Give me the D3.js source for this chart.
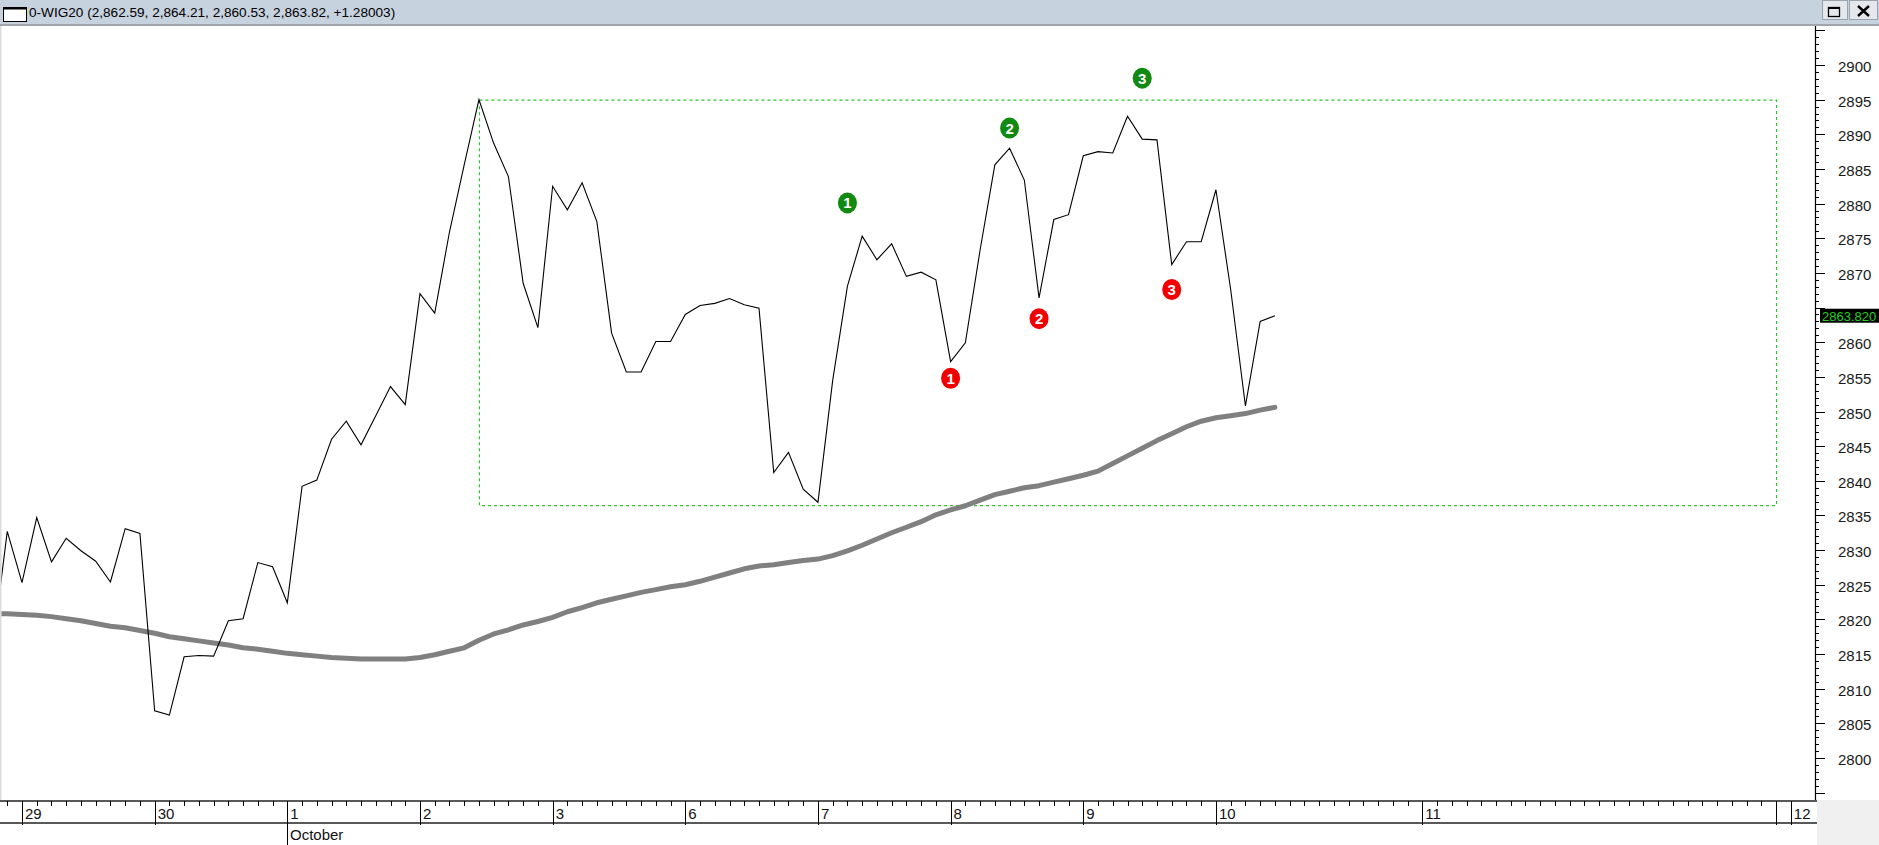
<!DOCTYPE html>
<html>
<head>
<meta charset="utf-8">
<script src="https://cdn.jsdelivr.net/npm/d3@7/dist/d3.min.js"></script>
<style>
  html, body { margin: 0; padding: 0; background: #ffffff; }
  svg { display: block; }
  text { font-family: "Liberation Sans", Arial, sans-serif; }
</style>
</head>
<body>
<svg id="chart" width="1879" height="845"></svg>
<script>
// ---------------- DATA ----------------
const titleText = "0-WIG20 (2,862.59, 2,864.21, 2,860.53, 2,863.82, +1.28003)";
const firstBar = -2; // bar index of first value (bar 0 = first bar of the 29th)
const closes = [2815.7, 2832.7, 2825.3, 2834.7, 2828.3, 2831.7, 2829.9, 2828.4, 2825.4, 2833.1,
  2832.4, 2806.8, 2806.2, 2814.6, 2814.8, 2814.7, 2819.8, 2820.1, 2828.2, 2827.6,
  2822.4, 2839.2, 2840.1, 2846.0, 2848.6, 2845.2, 2849.4, 2853.6, 2851.0, 2867.0,
  2864.2, 2875.9, 2885.6, 2895.0, 2888.7, 2883.9, 2868.5, 2862.1, 2882.5, 2879.1,
  2883.0, 2877.4, 2861.3, 2855.7, 2855.7, 2860.1, 2860.1, 2864.0, 2865.3, 2865.6,
  2866.3, 2865.4, 2864.9, 2841.2, 2844.1, 2838.8, 2836.9, 2854.5, 2868.1, 2875.3,
  2871.9, 2874.2, 2869.5, 2870.1, 2869.0, 2857.2, 2859.9, 2873.3, 2885.6, 2888.0,
  2883.4, 2866.4, 2877.7, 2878.4, 2886.9, 2887.5, 2887.3, 2892.6, 2889.3, 2889.2,
  2871.2, 2874.5, 2874.5, 2882.0, 2867.6, 2850.8, 2863.0, 2863.82];
const movingAvg = [2820.8, 2820.8, 2820.7, 2820.6, 2820.4, 2820.1, 2819.8, 2819.4, 2819.0, 2818.8,
  2818.4, 2818.0, 2817.5, 2817.2, 2816.9, 2816.6, 2816.3, 2815.9, 2815.7, 2815.4,
  2815.1, 2814.9, 2814.7, 2814.5, 2814.4, 2814.3, 2814.3, 2814.3, 2814.3, 2814.5,
  2814.9, 2815.4, 2815.9, 2817.0, 2817.9, 2818.5, 2819.2, 2819.7, 2820.3, 2821.1,
  2821.7, 2822.4, 2822.9, 2823.4, 2823.9, 2824.3, 2824.7, 2825.0, 2825.5, 2826.1,
  2826.7, 2827.3, 2827.7, 2827.9, 2828.2, 2828.5, 2828.7, 2829.2, 2829.9, 2830.7,
  2831.6, 2832.5, 2833.3, 2834.1, 2835.1, 2835.8, 2836.4, 2837.2, 2838.0, 2838.5,
  2839.0, 2839.3, 2839.8, 2840.3, 2840.8, 2841.4, 2842.5, 2843.6, 2844.7, 2845.8,
  2846.8, 2847.8, 2848.6, 2849.1, 2849.4, 2849.7, 2850.2, 2850.6];
const lastPrice = 2863.82;

const dayLabels = ["29", "30", "1", "2", "3", "6", "7", "8", "9", "10", "11", "12"];
const dayBars   = [0, 9, 18, 27, 36, 45, 54, 63, 72, 81, 95, 120];
const monthLabels = ["October"];
const monthBars = [18];

const yTickValues = d3.range(2800, 2901, 5);

const boxBars = [31, 119];
const boxLevels = [2895, 2836.5];

const markLabels = ["1", "2", "3"];
const greenBars = [56, 67, 76];
const greenValues = [2880.1, 2890.9, 2898.1];
const redBars = [63, 69, 78];
const redValues = [2854.8, 2863.4, 2867.6];

// ---------------- LAYOUT ----------------
const W = 1879, H = 845;
const plotTop = 26, plotBottom = 800, axisX = 1815;
const svg = d3.select("#chart");

const x = d3.scaleLinear().domain([0, 120]).range([22, 22 + 14.74 * 120]);
const y = d3.scaleLinear().domain([2800, 2900]).range([758, 65]);

// title bar
svg.append("rect").attr("x", 0).attr("y", 0).attr("width", W).attr("height", 24).attr("fill", "#c7d2df");
svg.append("rect").attr("x", 0).attr("y", 24).attr("width", W).attr("height", 2).attr("fill", "#a2a6ab");
svg.append("rect").attr("x", 3.5).attr("y", 7.5).attr("width", 23).attr("height", 14)
  .attr("fill", "#ffffff").attr("stroke", "#000").attr("stroke-width", 1);
svg.append("rect").attr("x", 3).attr("y", 7).attr("width", 24).attr("height", 2.5).attr("fill", "#000");
svg.append("text").attr("x", 29).attr("y", 17).attr("font-size", "13.6px").attr("fill", "#000").text(titleText);
// window buttons
[[1822, 26], [1849, 29]].forEach(([bx, bw]) => {
  svg.append("rect").attr("x", bx + 0.5).attr("y", 0.5).attr("width", bw - 1).attr("height", 19)
    .attr("fill", "#e4e7eb").attr("stroke", "#9aa3ad");
});
svg.append("rect").attr("x", 1828.5).attr("y", 7.5).attr("width", 11).attr("height", 9)
  .attr("fill", "none").attr("stroke", "#000").attr("stroke-width", 1.3);
svg.append("rect").attr("x", 1828).attr("y", 7).attr("width", 12).attr("height", 2).attr("fill", "#000");
svg.append("path").attr("d", "M1858,6 L1869,16 M1869,6 L1858,16").attr("stroke", "#000").attr("stroke-width", 2.4);

// plot background
svg.append("rect").attr("x", 0).attr("y", plotTop).attr("width", axisX).attr("height", plotBottom - plotTop).attr("fill", "#fff");
svg.append("rect").attr("x", 0).attr("y", plotTop).attr("width", 1.5).attr("height", H - plotTop).attr("fill", "#dcdcdc");

svg.append("clipPath").attr("id", "clip").append("rect")
  .attr("x", 1.5).attr("y", plotTop).attr("width", axisX - 1.5).attr("height", plotBottom - plotTop);
const plot = svg.append("g").attr("clip-path", "url(#clip)");

// range box
plot.append("rect")
  .attr("x", x(boxBars[0]) + 0.5).attr("y", y(boxLevels[0]) + 0.5)
  .attr("width", x(boxBars[1]) - x(boxBars[0])).attr("height", y(boxLevels[1]) - y(boxLevels[0]))
  .attr("fill", "none").attr("stroke", "#2fc02f").attr("stroke-width", 1.2).attr("stroke-dasharray", "3,3");

// moving average
const bars = closes.map((_, i) => i + firstBar);
plot.append("path")
  .attr("d", d3.line().x((d, i) => x(bars[i])).y(d => y(d))(movingAvg))
  .attr("fill", "none").attr("stroke", "#808080").attr("stroke-width", 5)
  .attr("stroke-linecap", "round").attr("stroke-linejoin", "round");

// price line
plot.append("path")
  .attr("d", d3.line().x((d, i) => x(bars[i])).y(d => y(d))(closes))
  .attr("fill", "none").attr("stroke", "#000").attr("stroke-width", 1.1);

// markers
function marks(barsArr, vals, color) {
  barsArr.forEach((b, i) => {
    const g = plot.append("g").attr("transform", `translate(${x(b)},${y(vals[i])})`);
    g.append("ellipse").attr("rx", 9.5).attr("ry", 10.5).attr("fill", color);
    g.append("text").attr("text-anchor", "middle").attr("y", 5.5)
      .attr("font-size", "15px").attr("font-weight", "bold").attr("fill", "#fff").text(markLabels[i]);
  });
}
marks(greenBars, greenValues, "#118a11");
marks(redBars, redValues, "#f20000");

// y axis
svg.append("line").attr("x1", axisX + 0.5).attr("x2", axisX + 0.5).attr("y1", plotTop).attr("y2", plotBottom)
  .attr("stroke", "#000").attr("stroke-width", 1.2);
d3.range(2795, 2906, 1).forEach(v => {
  const major = v % 5 === 0;
  svg.append("line").attr("x1", axisX).attr("x2", axisX + (major ? 10 : 4))
    .attr("y1", Math.round(y(v)) + 0.5).attr("y2", Math.round(y(v)) + 0.5)
    .attr("stroke", "#000").attr("stroke-width", 1);
});
// tick labels hidden where the last-price tag covers them
yTickValues.filter(v => Math.abs(y(v) - y(lastPrice)) > 14).forEach(v => {
  svg.append("text").attr("x", 1838).attr("y", y(v) + 7).attr("font-size", "15px").attr("fill", "#1a1a1a").text(v);
});
// last price tag
svg.append("rect").attr("x", 1820).attr("y", y(lastPrice) - 7).attr("width", 59).attr("height", 14).attr("fill", "#000");
svg.append("text").attr("x", 1822).attr("y", y(lastPrice) + 5).attr("font-size", "13px").attr("fill", "#1fd21f").text(lastPrice.toFixed(3));

// x axis
svg.append("rect").attr("x", 0).attr("y", plotBottom).attr("width", axisX + 2).attr("height", H - plotBottom).attr("fill", "#fff");
svg.append("rect").attr("x", axisX + 2).attr("y", plotBottom).attr("width", W - axisX - 2).attr("height", H - plotBottom).attr("fill", "#f0f0f0");
svg.append("line").attr("x1", 0).attr("x2", axisX + 2).attr("y1", 801).attr("y2", 801).attr("stroke", "#222").attr("stroke-width", 1.6);
svg.append("line").attr("x1", 0).attr("x2", axisX + 2).attr("y1", 823).attr("y2", 823).attr("stroke", "#222").attr("stroke-width", 1.6);
d3.range(-1, 120).forEach(k => {
  if (dayBars.includes(k)) return;
  svg.append("line").attr("x1", Math.round(x(k)) + 0.5).attr("x2", Math.round(x(k)) + 0.5)
    .attr("y1", 801).attr("y2", 806).attr("stroke", "#000").attr("stroke-width", 1);
});
dayBars.concat([boxBars[1]]).forEach(k => {
  svg.append("line").attr("x1", Math.round(x(k)) + 0.5).attr("x2", Math.round(x(k)) + 0.5)
    .attr("y1", 801).attr("y2", 825).attr("stroke", "#000").attr("stroke-width", 1);
});
dayLabels.forEach((t, i) => {
  svg.append("text").attr("x", x(dayBars[i]) + 3).attr("y", 819).attr("font-size", "15px").attr("fill", "#111").text(t);
});
monthLabels.forEach((t, i) => {
  const mx = Math.round(x(monthBars[i])) + 0.5;
  svg.append("line").attr("x1", mx).attr("x2", mx).attr("y1", 823).attr("y2", 845).attr("stroke", "#000").attr("stroke-width", 1);
  svg.append("text").attr("x", mx + 2.5).attr("y", 840).attr("font-size", "15px").attr("fill", "#111").text(t);
});
</script>
</body>
</html>
